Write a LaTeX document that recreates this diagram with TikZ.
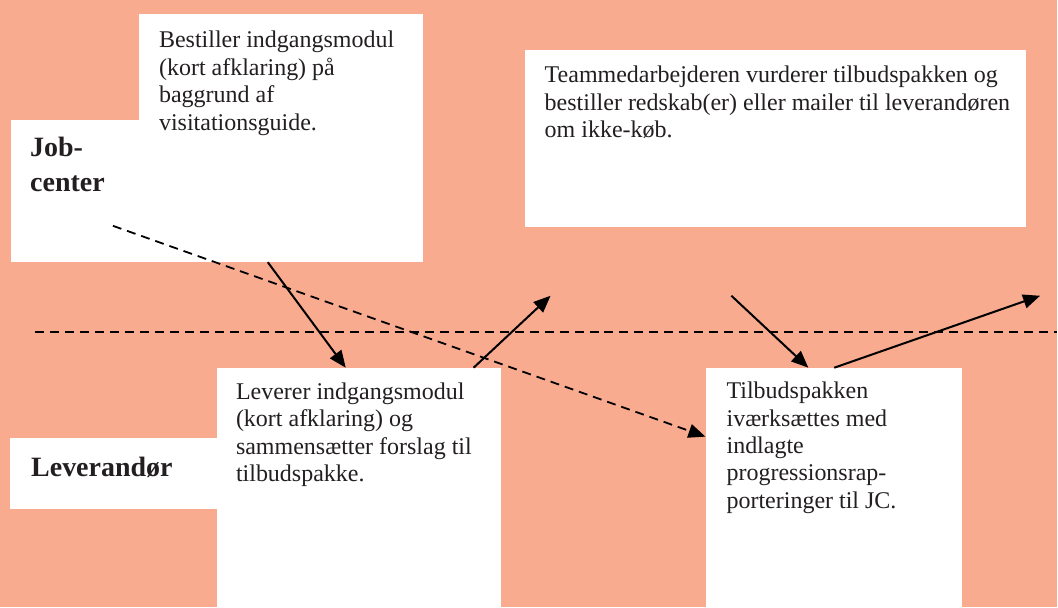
\documentclass[tikz,border=0pt]{standalone}
\usepackage{fontspec}
\setmainfont{Liberation Serif}
\usetikzlibrary{arrows.meta,positioning}
\definecolor{salmon}{RGB}{248,171,143}
\definecolor{inkgray}{RGB}{35,31,32}
\tikzset{
    whitebox/.style={fill=white,draw=none,inner sep=0pt,anchor=north west},
    boxtext/.style={inner sep=0pt,anchor=north west,align=left,text=inkgray,font=\fontsize{24}{27.5}\selectfont},
    roletext/.style={inner sep=0pt,anchor=north west,align=left,text=inkgray,font=\fontsize{28}{35}\selectfont\bfseries},
    flow/.style={line width=2pt,-{Triangle[length=17pt,width=14pt]}},
    dashflow/.style={line width=1.8pt,dash pattern=on 9pt off 6pt,-{Triangle[length=17pt,width=14pt]}},
}
\begin{document}
\begin{tikzpicture}[x=1pt,y=-1pt]
    \fill[salmon] (0,0) rectangle (1058,608);
    % white boxes
    \node[whitebox,minimum width=412pt,minimum height=142pt] (job) at (11,120) {};
    \node[whitebox,minimum width=284pt,minimum height=248pt] (bestil) at (139,14) {};
    \node[whitebox,minimum width=502pt,minimum height=177pt] (team) at (525,50) {};
    \node[whitebox,minimum width=290pt,minimum height=71pt] (lev) at (10,438) {};
    \node[whitebox,minimum width=284pt,minimum height=240pt] (leverer) at (217,368) {};
    \node[whitebox,minimum width=257pt,minimum height=240pt] (tilbud) at (706,368) {};
    % texts
    \node[roletext] (jobtxt) at (30,137) {Job-\\center};
    \node[roletext] (levtxt) at (31,457) {Leverandør};
    \node[boxtext] (bestiltxt) at (159,31) {Bestiller indgangsmodul\\(kort afklaring) på\\baggrund af\\visitationsguide.};
    \node[boxtext] (teamtxt) at (545,66) {Teammedarbejderen vurderer tilbudspakken og\\bestiller redskab(er) eller mailer til leverandøren\\om ikke-køb.};
    \node[boxtext] (levertxt) at (236,383) {Leverer indgangsmodul\\(kort afklaring) og\\sammensætter forslag til\\tilbudspakke.};
    \node[boxtext] (tilbudtxt) at (727,382) {Tilbudspakken\\iværksættes med\\indlagte\\progressionsrap-\\porteringer til JC.};
    % divider
    \draw[line width=1.8pt,dash pattern=on 9pt off 6pt] (35,332) -- (1058,332);
    % connectors
    \coordinate (jobdash) at (113,226);
    \coordinate (upone) at (551,296);
    \coordinate (fromteam) at (732,296);
    \coordinate (uptwo) at (1041,296);
    \draw[dashflow] (jobdash) -- ([yshift=-69pt]tilbud.north west);
    \draw[flow] ([xshift=129pt]bestil.south west) -- ([xshift=129pt]leverer.north west);
    \draw[flow] ([xshift=257pt]leverer.north west) -- (upone);
    \draw[flow] (fromteam) -- ([xshift=103pt]tilbud.north west);
    \draw[flow] ([xshift=129pt]tilbud.north west) -- (uptwo);
\end{tikzpicture}
\end{document}
